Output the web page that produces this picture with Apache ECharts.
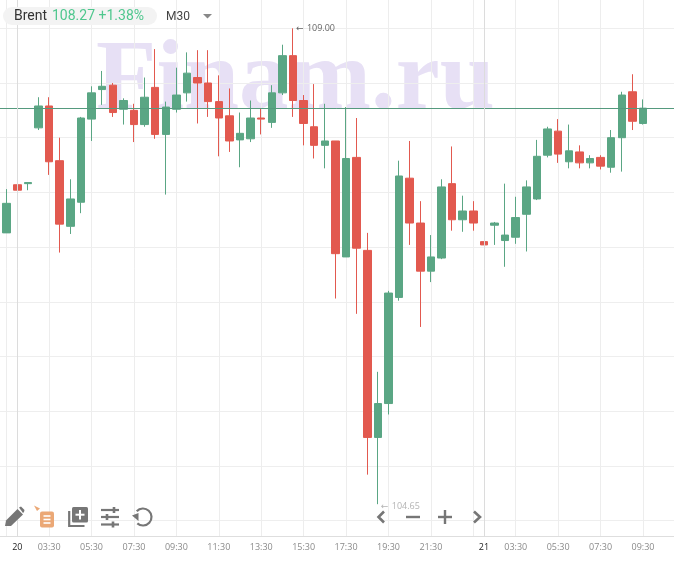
<!DOCTYPE html>
<html>
<head>
<meta charset="utf-8">
<style>html,body{margin:0;padding:0;background:#fff}#chart{width:674px;height:563px}</style>
<script src="https://cdn.jsdelivr.net/npm/echarts@6/dist/echarts.min.js"></script>
</head>
<body>
<div id="chart"></div>
<script>
// Brent, 30-minute candles
const categories = ['23:00','23:30','20','02:30','03:00','03:30','04:00','04:30','05:00','05:30','06:00','06:30','07:00','07:30','08:00','08:30','09:00','09:30','10:00','10:30','11:00','11:30','12:00','12:30','13:00','13:30','14:00','14:30','15:00','15:30','16:00','16:30','17:00','17:30','18:00','18:30','19:00','19:30','20:00','20:30','21:00','21:30','22:00','22:30','23:00','23:30','21','02:30','03:00','03:30','04:00','04:30','05:00','05:30','06:00','06:30','07:00','07:30','08:00','08:30','09:00','09:30','10:00','10:30','11:00'];
const opens  = [107.31,107.13,107.57,107.58,108.09,108.29,107.79,107.19,107.41,108.17,108.44,108.48,108.26,108.25,108.12,108.46,108.03,108.26,108.41,108.55,108.50,108.33,108.20,107.98,107.99,108.18,108.14,108.41,108.75,108.34,108.10,107.93,107.97,106.91,107.82,106.97,105.26,105.57,106.54,107.63,107.22,106.78,106.90,107.58,107.25,107.33,107.05,107.20,107.06,107.09,107.30,107.44,107.84,108.06,107.78,107.87,107.77,107.82,107.73,108.00,108.42,108.13];
const closes = [107.12,107.40,107.52,107.59,108.29,107.78,107.21,107.44,108.18,108.41,108.47,108.23,108.34,108.12,108.37,108.03,108.28,108.39,108.59,108.50,108.33,108.18,107.97,108.04,108.18,108.17,108.41,108.75,108.34,108.13,107.93,107.97,106.94,107.81,106.99,105.26,105.57,106.58,107.65,107.22,106.78,106.91,107.55,107.25,107.33,107.22,107.02,107.22,107.11,107.27,107.55,107.83,108.08,107.85,107.88,107.77,107.81,107.74,108.00,108.39,108.15,108.27];
const lows   = [107.11,107.13,107.27,107.52,108.07,107.66,106.95,107.12,107.31,107.97,108.30,108.19,108.12,107.96,108.10,107.99,107.48,108.23,108.33,108.13,108.19,107.83,107.87,107.73,107.96,108.03,108.09,108.39,108.19,107.93,107.81,107.72,106.53,106.91,106.39,104.92,104.65,105.47,106.51,107.02,106.27,106.68,106.89,107.15,107.14,107.15,107.02,107.02,106.82,107.03,106.96,107.43,107.82,107.77,107.72,107.72,107.72,107.71,107.68,107.69,108.07,108.12];
const highs  = [107.32,107.53,107.57,107.59,108.37,108.37,108.00,107.62,108.19,108.47,108.61,108.50,108.36,108.31,108.55,108.81,108.33,108.64,108.78,108.80,108.80,108.57,108.45,108.23,108.34,108.27,108.48,108.85,109.00,108.39,108.49,108.31,107.97,108.28,108.18,107.13,105.86,106.60,107.79,107.97,107.42,107.11,107.62,107.92,107.47,107.42,107.05,107.23,107.58,107.46,107.61,107.98,108.10,108.17,108.12,107.93,107.84,107.84,108.07,108.42,108.58,108.35];
const labelledTicks = [2,5,9,13,17,21,25,29,33,37,41,46,49,53,57,61];
const gridTicks = [1,2,5,9,13,17,21,25,29,33,37,41,45,46,49,53,57,61];
const dayTicks = [2,46];
const lastPrice = 108.27;
const priceStep = 0.5;
const priceMin = 104.5;
const priceMax = 109.5;
const highIndex = 28;
const lowIndex = 36;

const GREEN = '#5aa684', RED = '#e2594f', ICON = '#767676', ORANGE = '#eba876';
const FONT = '"Open Sans", Roboto, sans-serif';
const candles = opens.map((o, i) => [o, closes[i], lows[i], highs[i]]);

const xRange = { left: -3.9, width: 678.7 };

function stroked(points, width, color) {
  return { type: 'polyline', z: 20, shape: { points },
    style: { fill: 'none', stroke: color || ICON, lineWidth: width || 2 } };
}
function filled(points, color) {
  return { type: 'polygon', z: 20, shape: { points }, style: { fill: color || ICON } };
}
function box(x, y, width, height, r, color) {
  return { type: 'rect', z: 20, shape: { x, y, width, height, r }, style: { fill: color } };
}
function label(x, y, text, size, color, family) {
  return { type: 'text', z: 21, x, y,
    style: { text, fill: color, font: size + 'px ' + (family || 'Roboto, sans-serif'), verticalAlign: 'middle' } };
}
// "← price" tag next to a session extreme
function extremeLabel(color, offset) {
  return { show: true, position: 'right', distance: 3, offset,
    formatter: p => '{a|\u2190} {t|' + p.value.toFixed(2) + '}',
    rich: {
      a: { fontFamily: '"DejaVu Sans"', fontSize: 9, color },
      t: { fontFamily: FONT, fontSize: 9, color }
    } };
}

const chart = echarts.init(document.getElementById('chart'), null, { renderer: 'canvas' });
chart.setOption({
  animation: false,
  backgroundColor: '#fff',
  graphic: { elements: [
    // watermark behind the candles
    { type: 'text', z: -10, x: 96, y: 82,
      style: { text: 'Finam.ru', fill: '#e7e0f5', font: 'bold 99px "Liberation Serif", serif', verticalAlign: 'middle' } },
    // instrument pill
    box(3, 7, 154, 18, 9, '#f3f3f3'),
    label(14, 16.5, 'Brent', 14, '#333333'),
    label(52, 16.5, '108.27 +1.38%', 14, '#4fc78e'),
    label(166, 16.5, 'M30', 12, '#444444'),
    filled([[203, 14], [212, 14], [207.5, 18.5]], '#888888'),
    // pencil
    filled([[5, 526], [6, 520.5], [17.5, 509], [23, 514.5], [11, 526]]),
    filled([[19, 507.5], [21, 506.5], [24.5, 510], [24, 512], [23, 513]]),
    // note tool
    filled([[34, 505.5], [40, 508.5], [37, 511]], ORANGE),
    box(40, 511.5, 14, 16, 2, ORANGE),
    stroked([[43.5, 516], [50.5, 516]], 1.6, '#fff'),
    stroked([[43.5, 519.5], [50.5, 519.5]], 1.6, '#fff'),
    stroked([[43.5, 523], [50.5, 523]], 1.6, '#fff'),
    // add indicator
    box(72, 507, 16, 15.5, 1.5, ICON),
    stroked([[80, 510], [80, 519.5]], 2, '#fff'),
    stroked([[75.5, 514.7], [84.5, 514.7]], 2, '#fff'),
    stroked([[69.2, 511], [69.2, 526], [84.5, 526]], 2.2),
    // settings sliders
    stroked([[101, 510], [119, 510]], 2.2),
    stroked([[101, 517], [119, 517]], 2.2),
    stroked([[101, 524.5], [119, 524.5]], 2.2),
    stroked([[114, 507], [114, 513]], 2.6),
    stroked([[107, 514], [107, 520]], 2.6),
    stroked([[113, 521.5], [113, 527.5]], 2.6),
    // undo
    { type: 'arc', z: 20, shape: { cx: 143, cy: 517, r: 8.5, startAngle: -2.4, endAngle: 2.3, clockwise: true },
      style: { fill: 'none', stroke: ICON, lineWidth: 2.2 } },
    filled([[132, 515.5], [138.5, 513], [138.5, 521]]),
    // navigation
    stroked([[384, 511.5], [378.5, 517], [384, 522.5]], 2.6),
    stroked([[406, 517], [420, 517]], 2.4),
    stroked([[438, 517], [452, 517]], 2.4),
    stroked([[445, 510], [445, 524]], 2.4),
    stroked([[474, 511.5], [480, 517], [474, 522.5]], 2.6)
  ] },
  grid: [
    { left: xRange.left, width: xRange.width, top: -26.4, height: 547, outerBoundsMode: 'none' },
    { left: xRange.left, width: xRange.width, top: 0, height: 536.3, outerBoundsMode: 'none' }
  ],
  xAxis: [
    { type: 'category', gridIndex: 0, data: categories, boundaryGap: false, show: false },
    { type: 'category', gridIndex: 1, data: categories, boundaryGap: false,
      axisLine: { show: true, lineStyle: { color: '#dedede', width: 1 } },
      axisTick: { show: false },
      splitLine: { show: true, interval: i => gridTicks.includes(i), lineStyle: { color: '#ededed', width: 1 } },
      axisLabel: { interval: i => labelledTicks.includes(i), margin: 7,
        fontFamily: FONT, fontSize: 9,
        color: (v, i) => (v === '20' || v === '21') ? '#222222' : '#8a8a8a' } }
  ],
  yAxis: [
    { type: 'value', gridIndex: 0, min: priceMin, max: priceMax, interval: priceStep,
      axisLine: { show: false }, axisTick: { show: false }, axisLabel: { show: false },
      splitLine: { show: true, lineStyle: { color: '#eeeeee', width: 1 } } },
    { type: 'value', gridIndex: 1, show: false }
  ],
  series: [
    { type: 'candlestick', xAxisIndex: 0, yAxisIndex: 0, data: candles, barWidth: 8,
      itemStyle: { color: GREEN, color0: RED, borderColor: GREEN, borderColor0: RED, borderWidth: 1 },
      markLine: { silent: true, symbol: 'none', animation: false, label: { show: false },
        lineStyle: { color: '#559a7e', width: 1, type: 'solid' },
        data: [{ yAxis: lastPrice }] },
      markPoint: { silent: true, symbol: 'circle', symbolSize: 0, animation: false,
        data: [
          { coord: [highIndex, highs[highIndex]], value: highs[highIndex],
            label: extremeLabel('#666666', [0, 0]) },
          { coord: [lowIndex, lows[lowIndex]], value: lows[lowIndex],
            label: extremeLabel('#b4b4b4', [0, 2]) }
        ] } },
    // day boundaries are a shade darker than the other verticals
    { type: 'line', xAxisIndex: 1, yAxisIndex: 1, data: [], silent: true, showSymbol: false,
      markLine: { silent: true, symbol: 'none', animation: false, label: { show: false },
        lineStyle: { color: '#dcdcdc', width: 1, type: 'solid' },
        data: dayTicks.map(i => ({ xAxis: i })) } }
  ]
});
</script>
</body>
</html>
